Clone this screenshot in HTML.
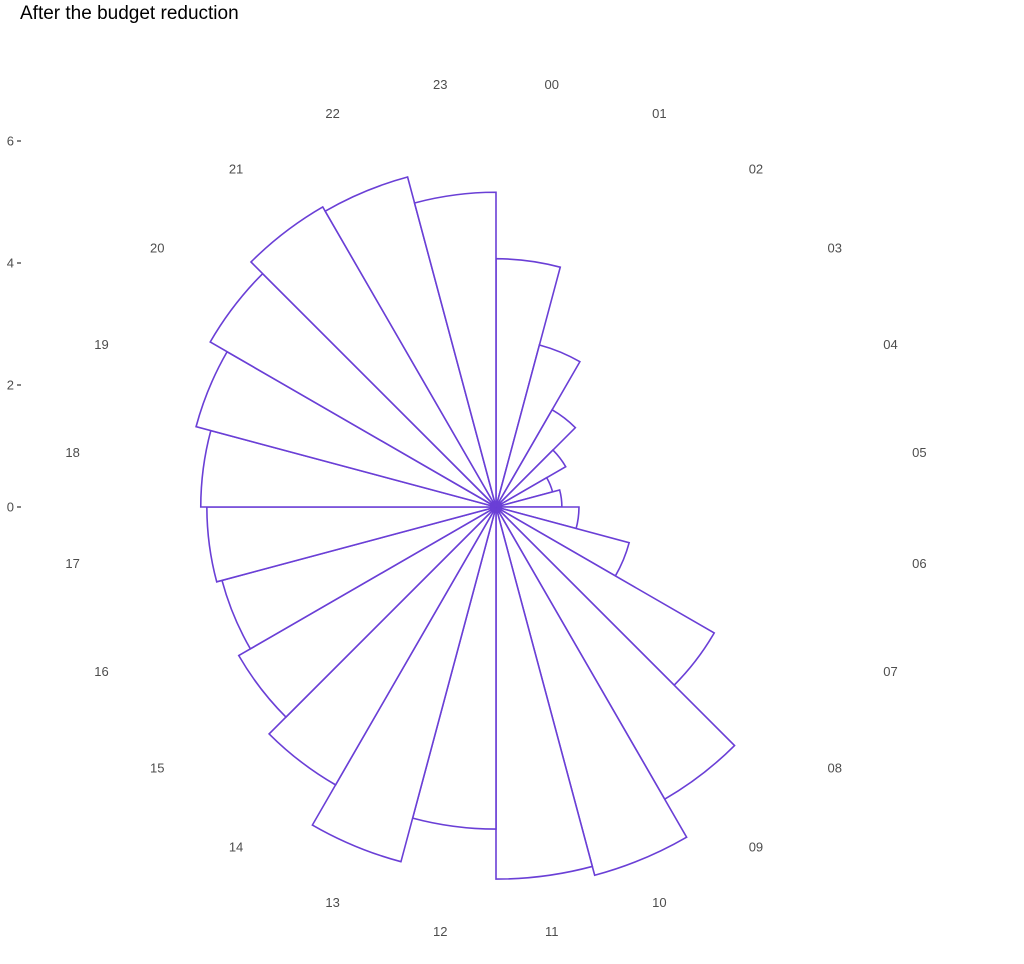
<!DOCTYPE html>
<html><head><meta charset="utf-8"><style>
html,body{margin:0;padding:0;background:#fff;}
svg{display:block;font-family:"Liberation Sans",sans-serif;}
</style></head><body>
<svg id="chart" width="1024" height="964" viewBox="0 0 1024 964">
<text x="20" y="19" font-size="19" fill="#000">After the budget reduction</text>
<g id="yaxis"></g>
<g id="bars"></g>
<g id="labels"></g>
</svg>
<script>
const hours = ["00","01","02","03","04","05","06","07","08","09","10","11","12","13","14","15","16","17","18","19","20","21","22","23"];
const values = [4.07,2.75,1.84,1.32,0.96,1.08,1.36,2.26,4.13,5.53,6.25,6.1,5.28,6.02,5.26,4.87,4.65,4.74,4.84,5.09,5.41,5.68,5.6,5.16];
const yTicks = [0,2,4,6];
const cx=496, cy=507, k=61, labelR=427;
const NS="http://www.w3.org/2000/svg";
function r(v){return v*k;}
function pt(rad,deg){const a=deg*Math.PI/180;return [cx+rad*Math.sin(a), cy-rad*Math.cos(a)];}
const bars=document.getElementById('bars');
const step=360/hours.length;
values.forEach((v,i)=>{
  const R=r(v), a0=i*step, a1=(i+1)*step;
  const p0=pt(R,a0), p1=pt(R,a1);
  const p=document.createElementNS(NS,'path');
  p.setAttribute('d',`M${cx},${cy} L${p0[0]},${p0[1]} A${R},${R} 0 0 1 ${p1[0]},${p1[1]} Z`);
  p.setAttribute('fill','#fff');p.setAttribute('stroke','#6a3fd6');p.setAttribute('stroke-width','1.6');
  
  
  bars.appendChild(p);
});
const labels=document.getElementById('labels');
hours.forEach((h,i)=>{
  const q=pt(labelR,(i+0.5)*step);
  const t=document.createElementNS(NS,'text');
  t.setAttribute('x',q[0]);t.setAttribute('y',q[1]+5.5);t.setAttribute('text-anchor','middle');
  t.setAttribute('font-size','13');t.setAttribute('fill','#4d4d4d');
  t.textContent=h;
  
  
  labels.appendChild(t);
});
const ya=document.getElementById('yaxis');
yTicks.forEach(v=>{
  const y=cy-r(v);
  const t=document.createElementNS(NS,'text');
  t.setAttribute('x',14);t.setAttribute('y',y+4.5);t.setAttribute('text-anchor','end');
  t.setAttribute('font-size','13');t.setAttribute('fill','#4d4d4d');t.textContent=v;
  
  
  ya.appendChild(t);
  const l=document.createElementNS(NS,'line');
  l.setAttribute('x1',17);l.setAttribute('x2',21);l.setAttribute('y1',y);l.setAttribute('y2',y);
  l.setAttribute('stroke','#333');l.setAttribute('stroke-width','1.2');
  
  
  ya.appendChild(l);
});
</script>
</body></html>
